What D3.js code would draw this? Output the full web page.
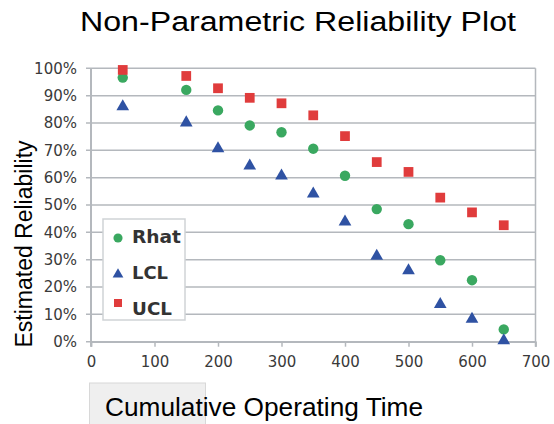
<!DOCTYPE html>
<html><head><meta charset="utf-8">
<script src="https://cdn.jsdelivr.net/npm/d3@7"></script>
<style>body{margin:0;background:#fff}svg{display:block}</style>
</head><body>
<script>
const times = [50,150,200,250,300,350,400,450,500,550,600,650];
const rhat = [96.6,92.1,84.6,79.1,76.6,70.6,60.7,48.5,43.0,29.8,22.5,4.5];
const lcl  = [86.0,80.1,70.6,64.3,60.7,54.1,43.8,31.3,26.0,13.7,8.3,0.4];
const ucl  = [99.4,97.2,92.7,89.2,87.2,82.8,75.2,65.7,62.1,52.7,47.3,42.6];
const xTicks = [0,100,200,300,400,500,600,700];
const yTicks = [0,10,20,30,40,50,60,70,80,90,100];
const seriesNames = ["Rhat","LCL","UCL"];
const colors = {Rhat:"#3aa860",LCL:"#2f52a3",UCL:"#e03c3c"};

const W=554,H=424;
const svg=d3.select("body").append("svg").attr("width",W).attr("height",H);
const m={l:91,r:535.5,t:68.3,b:341.7};
const x=d3.scaleLinear().domain([0,700]).range([m.l,m.r]);
const y=d3.scaleLinear().domain([0,100]).range([m.b,m.t]);
const grid="#b4b8bd";

// gray box behind x title
svg.append("rect").attr("x",89.5).attr("y",383).attr("width",116).attr("height",45)
  .attr("fill","#efefef").attr("stroke","#d8d8d8");

// gridlines
svg.append("g").selectAll("line").data(yTicks).join("line")
  .attr("x1",m.l-5).attr("x2",m.r).attr("y1",d=>y(d)).attr("y2",d=>y(d))
  .attr("stroke",grid).attr("stroke-width",1.5);
svg.append("line").attr("x1",m.r).attr("x2",m.r).attr("y1",m.t).attr("y2",m.b+5)
  .attr("stroke",grid).attr("stroke-width",1.5);
svg.append("line").attr("x1",m.l).attr("x2",m.l).attr("y1",m.t).attr("y2",m.b+5)
  .attr("stroke",grid).attr("stroke-width",2);

// x axis
const xa=svg.append("g").attr("transform",`translate(0,${m.b})`)
  .call(d3.axisBottom(x).tickValues(xTicks).tickSize(5).tickPadding(10));
xa.select(".domain").attr("stroke",grid).attr("stroke-width",1.5);
xa.selectAll(".tick line").attr("stroke",grid).attr("stroke-width",1.5);
xa.selectAll("text").attr("font-family","DejaVu Sans").attr("font-size",15)
  .attr("fill","#3a3a3a");

// y axis labels
const ya=svg.append("g").attr("transform",`translate(${m.l},0)`)
  .call(d3.axisLeft(y).tickValues(yTicks).tickSize(0).tickPadding(14).tickFormat(d=>d+"%"));
ya.select(".domain").remove();
ya.selectAll("text").attr("font-family","DejaVu Sans").attr("font-size",15)
  .attr("fill","#3a3a3a");

const sym={Rhat:d3.symbolCircle,LCL:d3.symbolTriangle,UCL:d3.symbolSquare};
const sz={Rhat:85,LCL:70,UCL:95};
const dataMap={Rhat:rhat,LCL:lcl,UCL:ucl};
seriesNames.forEach(n=>{
  svg.append("g").selectAll("path").data(times.map((t,i)=>[t,dataMap[n][i]])).join("path")
    .attr("d",d3.symbol().type(sym[n]).size(sz[n]))
    .attr("transform",d=>`translate(${x(d[0])},${y(d[1])})`)
    .attr("fill",colors[n]);
});

// legend
const lg=svg.append("g");
lg.append("rect").attr("x",103).attr("y",219).attr("width",82).attr("height",101)
  .attr("fill","#fff").attr("stroke","#d0d3d6").attr("stroke-width",1.5);
const markY=[238,274.5,303];
const textY=[243,279,315];
const textW=[49,36,40];
seriesNames.forEach((n,i)=>{
  lg.append("path").attr("d",d3.symbol().type(sym[n]).size(n==="LCL"?50:65))
    .attr("transform",`translate(118,${markY[i]})`).attr("fill",colors[n]);
  lg.append("text").attr("x",132).attr("y",textY[i]).text(n)
    .attr("font-family","DejaVu Sans").attr("font-size",18).attr("font-weight","bold").attr("fill","#333")
    .attr("textLength",textW[i]).attr("lengthAdjust","spacingAndGlyphs");
});

// titles
svg.append("text").attr("x",80).attr("y",31)
  .attr("font-family","Liberation Sans").attr("font-size",27).attr("fill","#000")
  .attr("textLength",436).attr("lengthAdjust","spacingAndGlyphs")
  .text("Non-Parametric Reliability Plot");
svg.append("text").attr("transform","translate(32,244) rotate(-90)").attr("text-anchor","middle")
  .attr("font-family","Liberation Sans").attr("font-size",23).attr("fill","#000")
  .text("Estimated Reliability");
svg.append("text").attr("x",105).attr("y",416)
  .attr("font-family","Liberation Sans").attr("font-size",25).attr("fill","#000")
  .attr("textLength",318).attr("lengthAdjust","spacingAndGlyphs")
  .text("Cumulative Operating Time");
</script>
</body></html>
